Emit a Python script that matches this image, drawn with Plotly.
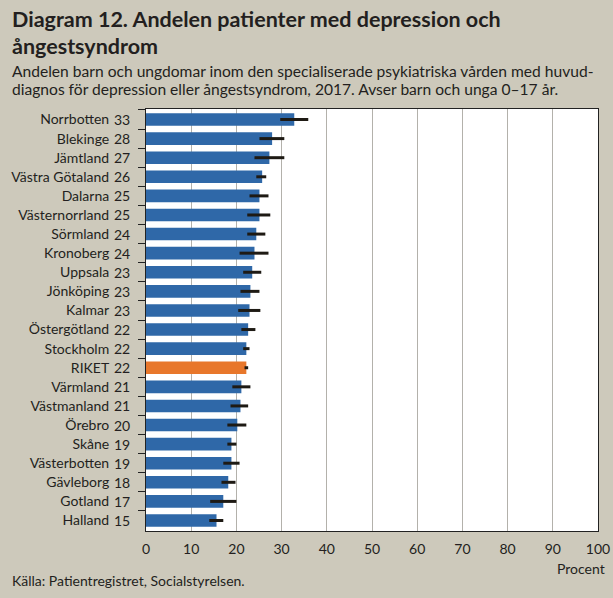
import plotly.graph_objects as go

regions = ["Norrbotten", "Blekinge", "Jämtland", "Västra Götaland", "Dalarna",
           "Västernorrland", "Sörmland", "Kronoberg", "Uppsala", "Jönköping",
           "Kalmar", "Östergötland", "Stockholm", "RIKET", "Värmland",
           "Västmanland", "Örebro", "Skåne", "Västerbotten", "Gävleborg",
           "Gotland", "Halland"]
values = [32.8, 27.9, 27.3, 25.7, 25.1, 25.1, 24.4, 24.0, 23.5, 23.1, 22.9,
          22.6, 22.2, 22.2, 21.1, 20.9, 20.2, 18.9, 18.9, 18.2, 17.1, 15.6]
labels = [33, 28, 27, 26, 25, 25, 24, 24, 23, 23, 23, 22, 22, 22, 21, 21, 20,
          19, 19, 18, 17, 15]
ci_low = [29.7, 25.1, 24.0, 24.4, 22.9, 22.4, 22.4, 20.7, 21.5, 20.9, 20.4,
          21.1, 21.5, 21.8, 19.1, 18.7, 18.0, 18.0, 17.1, 16.7, 14.2, 14.0]
ci_high = [35.9, 30.6, 30.6, 26.6, 27.1, 27.5, 26.4, 27.1, 25.5, 25.1, 25.3,
           24.2, 22.9, 22.6, 23.1, 22.6, 22.2, 20.0, 20.7, 19.8, 20.0, 17.1]
x_ticks = [0, 10, 20, 30, 40, 50, 60, 70, 80, 90, 100]

title_lines = ["Diagram 12. Andelen patienter med depression och",
               "ångestsyndrom"]
subtitle_lines = ["Andelen barn och ungdomar inom den specialiserade psykiatriska vården med huvud-",
                  "diagnos för depression eller ångestsyndrom, 2017. Avser barn och unga 0–17 år."]
source_text = "Källa: Patientregistret, Socialstyrelsen."
axis_unit = "Procent"

BLUE = "#2f68a8"
ORANGE = "#e8772b"
TEXT = "#231f20"
BG = "#cdc9bb"
FONT = "Lato"

W, H = 613, 598
L, R, T, B = 146, 15, 109, 67
pw, ph = W - L - R, H - T - B

def px_x(px):
    return (px - L) / pw

def px_y(py):
    return (H - B - py) / ph

colors = [ORANGE if r == "RIKET" else BLUE for r in regions]

fig = go.Figure()
fig.add_trace(go.Bar(
    y=regions, x=values, orientation="h",
    marker=dict(color=colors, line=dict(width=0)),
    error_x=dict(type="data", symmetric=False,
                 array=[h - v for h, v in zip(ci_high, values)],
                 arrayminus=[v - l for l, v in zip(ci_low, values)],
                 color="#1e1a14", thickness=3, width=0),
    hoverinfo="skip",
))

annotations = []
for r, n in zip(regions, labels):
    annotations.append(dict(x=px_x(132), xref="paper", y=r, yref="y",
                            text=str(n), showarrow=False, xanchor="right",
                            yanchor="middle",
                            font=dict(family=FONT, size=14, color=TEXT)))

def text_ann(txt, px, py, size, bold=False, anchor="left"):
    return dict(x=px_x(px), y=px_y(py), xref="paper", yref="paper",
                xanchor=anchor, yanchor="middle", align=anchor,
                showarrow=False, text=f"<b>{txt}</b>" if bold else txt,
                font=dict(family=FONT, size=size, color=TEXT))

annotations += [
    text_ann(title_lines[0], 10, 19.5, 21.5, bold=True),
    text_ann(title_lines[1], 10, 45.5, 21.5, bold=True),
    text_ann(subtitle_lines[0], 10, 71, 15.6),
    text_ann(subtitle_lines[1], 10, 89, 15.6),
    text_ann(axis_unit, 607, 568, 14, anchor="right"),
    text_ann(source_text, 10, 580, 14),
]

fig.update_layout(
    width=W, height=H,
    margin=dict(l=L, r=R, t=T, b=B, pad=0, autoexpand=False),
    paper_bgcolor=BG, plot_bgcolor="white",
    showlegend=False, bargap=0.34,
    font=dict(family=FONT, size=14, color=TEXT),
    annotations=annotations,
    xaxis=dict(range=[0, 100], tickvals=x_ticks, showgrid=True,
               gridcolor="#b3b1ab", gridwidth=1, zeroline=False,
               showline=True, linecolor="#222", linewidth=1, mirror=True,
               ticks="", ticklabelstandoff=5,
               tickfont=dict(family=FONT, size=14, color=TEXT),
               automargin=False, fixedrange=True),
    yaxis=dict(autorange="reversed", type="category",
               showline=True, linecolor="#222", linewidth=1, mirror=True,
               ticks="outside", tickson="boundaries", ticklen=7,
               tickcolor="#222", tickwidth=1, showgrid=False,
               ticklabelstandoff=33, automargin=False,
               tickfont=dict(family=FONT, size=14, color=TEXT),
               fixedrange=True),
)

fig.write_html("out.html", config={"displayModeBar": False},
               post_script="document.body.style.margin='0px';document.body.style.overflow='hidden';")
